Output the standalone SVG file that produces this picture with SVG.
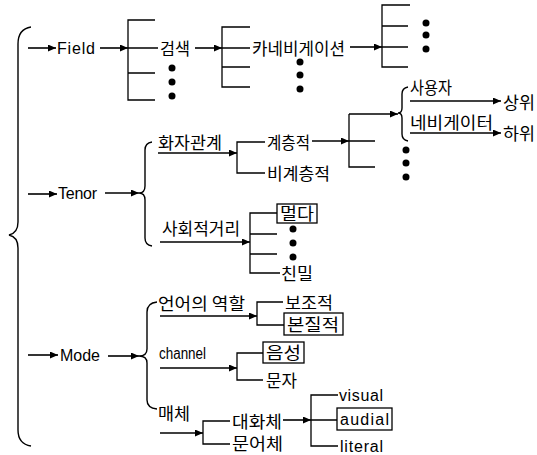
<svg xmlns="http://www.w3.org/2000/svg" width="537" height="455" viewBox="0 0 537 455">
<defs>
<marker id="ah" markerUnits="userSpaceOnUse" markerWidth="9" markerHeight="8" refX="8" refY="3.5" orient="auto">
<path d="M0,0 L8,3.5 L0,7 z" fill="#000"/>
</marker>
<style>
.l{fill:none;stroke:#000;stroke-width:1.3}
.a{fill:none;stroke:#000;stroke-width:1.6;marker-end:url(#ah)}
.b{fill:none;stroke:#000;stroke-width:1.4}
.t{font-family:"Liberation Sans","Noto Sans",sans-serif;font-size:16px;fill:#000;dominant-baseline:central}
.k{font-family:"Noto Sans CJK KR","Noto Sans",sans-serif;font-size:16.5px;fill:#000;dominant-baseline:central}
.bx{fill:#fff;stroke:#000;stroke-width:1.3}
.d{fill:#000}
</style>
</defs>
<rect width="537" height="455" fill="#fff"/>
<g id="connectors">
<path class="b" d="M31 27 Q18 29 18 44 L18 222 Q18 233 9 235 Q18 237 18 248 L18 430 Q18 444 31 446"/>
<path class="a" d="M28 48 H56"/>
<path class="a" d="M100 48 H128"/>
<path class="l" d="M155 20 H128 V100 H155 M128 48 H158 M128 73 H155"/>
<path class="a" d="M195 48 H222"/>
<path class="l" d="M250 27 H222 V87 H250 M222 48 H250 M222 67 H250"/>
<path class="a" d="M350 47 H382"/>
<path class="l" d="M410 5 H382 V67 H408 M382 26 H408 M382 47 H408"/>
<path class="a" d="M28 194 H57"/>
<path class="a" d="M105 193 H139"/>
<path class="b" d="M152 142 Q145 143 145 150 L145 186 Q145 193 139 193 Q145 193 145 200 L145 238 Q145 245 152 246"/>
<path class="a" d="M158 153 H237"/>
<path class="l" d="M265 142 H237 V173 H265"/>
<path class="a" d="M312 141 H349"/>
<path class="l" d="M375 167 H349 V114 M349 141 H375"/>
<path class="a" d="M349 114 H398"/>
<path class="b" d="M408 87 Q402 88 402 94 L402 108 Q402 113 398 113 Q402 113 402 118 L402 134 Q402 140 408 141"/>
<path class="a" d="M410 101 H501"/>
<path class="a" d="M410 133 H501"/>
<path class="a" d="M160 242 H250"/>
<path class="l" d="M277 213 H250 V273 H280 M250 234 H277 M250 254 H277"/>
<path class="a" d="M28 355 H58"/>
<path class="a" d="M108 356 H139"/>
<path class="b" d="M157 302 Q147 303 147 312 L147 349 Q147 356 139 356 Q147 356 147 363 L147 400 Q147 408 157 409"/>
<path class="a" d="M160 316 H257"/>
<path class="l" d="M283 302 H257 V325 H284"/>
<path class="a" d="M160 368 H237"/>
<path class="l" d="M263 353 H237 V380 H263"/>
<path class="a" d="M160 433 H203"/>
<path class="l" d="M230 421 H203 V444 H230"/>
<path class="a" d="M283 420 H311"/>
<path class="l" d="M338 395 H311 V446 H338 M311 420 H337"/>
</g>
<g id="dots">
<circle class="d" cx="172" cy="68" r="3.5"/><circle class="d" cx="172" cy="82" r="3.5"/><circle class="d" cx="172" cy="96" r="3.5"/>
<circle class="d" cx="300" cy="62" r="3.5"/><circle class="d" cx="300" cy="75" r="3.5"/><circle class="d" cx="300" cy="89" r="3.5"/>
<circle class="d" cx="426" cy="23" r="3.5"/><circle class="d" cx="426" cy="35" r="3.5"/><circle class="d" cx="426" cy="49" r="3.5"/>
<circle class="d" cx="406" cy="150" r="3.5"/><circle class="d" cx="406" cy="163" r="3.5"/><circle class="d" cx="406" cy="177" r="3.5"/>
<circle class="d" cx="293" cy="229" r="3.5"/><circle class="d" cx="293" cy="243" r="3.5"/><circle class="d" cx="293" cy="257" r="3.5"/>
</g>
<g id="field"><text class="t" x="57" y="48" textLength="38">Field</text></g>
<g id="geomsaek"><text class="k" x="160" y="48" textLength="30" lengthAdjust="spacingAndGlyphs">검색</text></g>
<g id="navigation"><text class="k" x="252" y="48" textLength="93" lengthAdjust="spacingAndGlyphs">카네비게이션</text></g>
<g id="tenor"><text class="t" x="58" y="193" textLength="39">Tenor</text></g>
<g id="hwaja"><text class="k" x="158" y="142" textLength="64" lengthAdjust="spacingAndGlyphs">화자관계</text></g>
<g id="gyecheung"><text class="k" x="267" y="142" textLength="43" lengthAdjust="spacingAndGlyphs">계층적</text></g>
<g id="bigyecheung"><text class="k" x="267" y="173" textLength="63" lengthAdjust="spacingAndGlyphs">비계층적</text></g>
<g id="user"><text class="k" x="410" y="87" textLength="42" lengthAdjust="spacingAndGlyphs">사용자</text></g>
<g id="navigator"><text class="k" x="410" y="122" textLength="83" lengthAdjust="spacingAndGlyphs">네비게이터</text></g>
<g id="upper"><text class="k" x="503" y="102" textLength="32" lengthAdjust="spacingAndGlyphs">상위</text></g>
<g id="lower"><text class="k" x="503" y="133" textLength="32" lengthAdjust="spacingAndGlyphs">하위</text></g>
<g id="social"><text class="k" x="162" y="228" textLength="78" lengthAdjust="spacingAndGlyphs">사회적거리</text></g>
<g id="far"><rect class="bx" x="277" y="204" width="40" height="19"/><text class="k" x="280" y="213" textLength="34" lengthAdjust="spacingAndGlyphs">멀다</text></g>
<g id="close"><text class="k" x="281" y="273" textLength="32" lengthAdjust="spacingAndGlyphs">친밀</text></g>
<g id="mode"><text class="t" x="60" y="355" textLength="40">Mode</text></g>
<g id="role"><text class="k" x="158" y="303" textLength="87" lengthAdjust="spacingAndGlyphs">언어의 역할</text></g>
<g id="aux"><text class="k" x="285" y="302" textLength="48" lengthAdjust="spacingAndGlyphs">보조적</text></g>
<g id="essential"><rect class="bx" x="284" y="313" width="59" height="22"/><text class="k" x="287" y="324" textLength="52" lengthAdjust="spacingAndGlyphs">본질적</text></g>
<g id="channel"><text class="t" x="159" y="353" style="font-size:16px" textLength="47" lengthAdjust="spacingAndGlyphs">channel</text></g>
<g id="voice"><rect class="bx" x="263" y="342" width="41" height="21"/><text class="k" x="266" y="352" textLength="35" lengthAdjust="spacingAndGlyphs">음성</text></g>
<g id="letter"><text class="k" x="266" y="380" textLength="31" lengthAdjust="spacingAndGlyphs">문자</text></g>
<g id="medium"><text class="k" x="158" y="413" textLength="32" lengthAdjust="spacingAndGlyphs">매체</text></g>
<g id="dialog"><text class="k" x="232" y="421" textLength="50" lengthAdjust="spacingAndGlyphs">대화체</text></g>
<g id="written"><text class="k" x="232" y="443" textLength="51" lengthAdjust="spacingAndGlyphs">문어체</text></g>
<g id="visual"><text class="t" x="339" y="395" textLength="44">visual</text></g>
<g id="audial"><rect class="bx" x="337" y="408" width="55" height="22"/><text class="t" x="340" y="419" textLength="49">audial</text></g>
<g id="literal"><text class="t" x="340" y="446" textLength="43">literal</text></g>
</svg>
